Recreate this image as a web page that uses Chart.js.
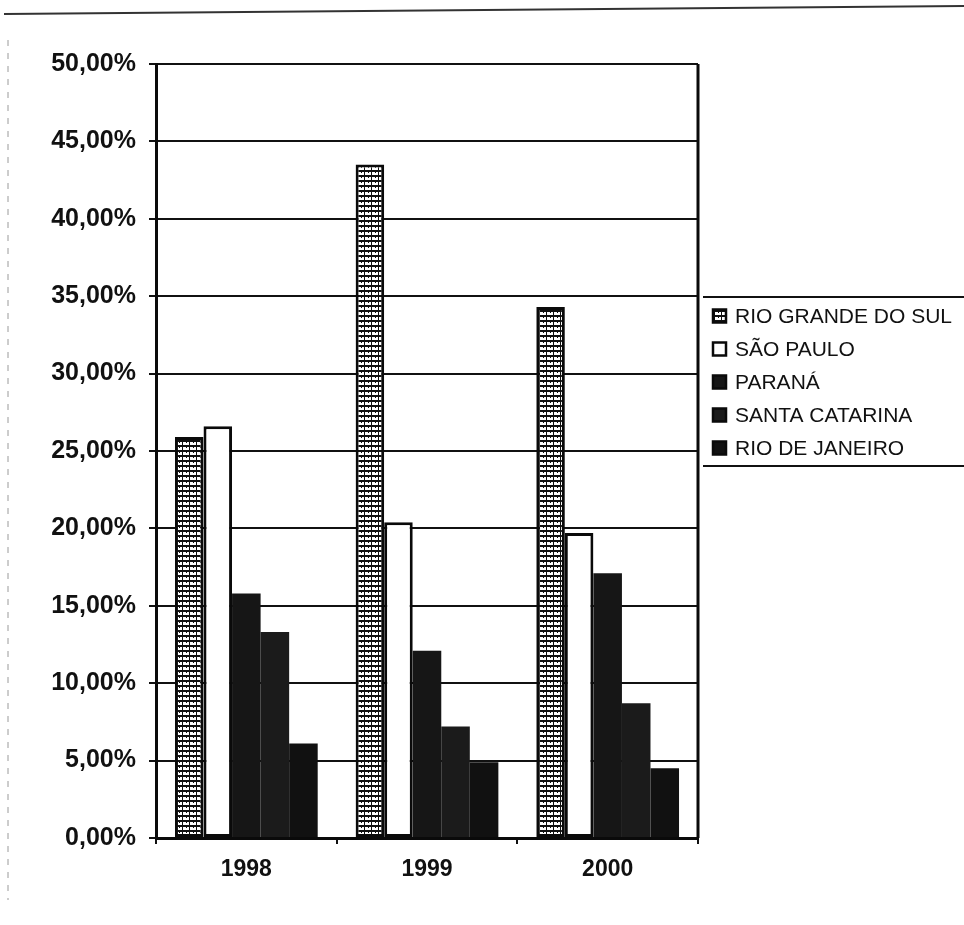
<!DOCTYPE html>
<html>
<head>
<meta charset="utf-8">
<title>Participação por estado</title>
<script src="https://cdn.jsdelivr.net/npm/chart.js@4/dist/chart.umd.min.js"></script>
<style>
  html, body { margin: 0; padding: 0; background: #ffffff; }
  #wrap { position: relative; width: 964px; height: 925px; }
</style>
</head>
<body>
<div id="wrap"><canvas id="chart"></canvas></div>
<script>
// Anos e participação (%) de cada estado
const categories = ['1998', '1999', '2000'];
const seriesNames = ['RIO GRANDE DO SUL', 'SÃO PAULO', 'PARANÁ', 'SANTA CATARINA', 'RIO DE JANEIRO'];
const rioGrandeDoSul = [25.9, 43.5, 34.3];
const saoPaulo = [26.6, 20.4, 19.7];
const parana = [15.8, 12.1, 17.1];
const santaCatarina = [13.3, 7.2, 8.7];
const rioDeJaneiro = [6.1, 4.9, 4.5];
const yTicks = [0, 5, 10, 15, 20, 25, 30, 35, 40, 45, 50];

// Hachura usada nas barras do Rio Grande do Sul
function makeHatch() {
  const c = document.createElement('canvas');
  c.width = 7; c.height = 5;
  const g = c.getContext('2d');
  g.fillStyle = '#ffffff';
  g.fillRect(0, 0, 7, 5);
  g.fillStyle = '#111111';
  g.fillRect(0, 0, 7, 2);
  g.fillRect(0, 0, 1, 5);
  g.fillRect(4, 2, 1, 1);
  return g.createPattern(c, 'repeat');
}
const hatch = makeHatch();

const fills = [hatch, '#ffffff', '#161616', '#1b1b1b', '#111111'];
const edges = ['#0a0a0a', '#0a0a0a', '#161616', '#1b1b1b', '#111111'];
const values = [rioGrandeDoSul, saoPaulo, parana, santaCatarina, rioDeJaneiro];

const datasets = seriesNames.map((name, i) => ({
  label: name,
  data: values[i],
  backgroundColor: fills[i],
  borderColor: edges[i],
  borderWidth: i < 2 ? 3 : 0,
  borderSkipped: false,
  categoryPercentage: 0.79,
  barPercentage: 1.0
}));

// Moldura do gráfico, legenda lateral e linhas da página
const framePlugin = {
  id: 'frame',
  afterDraw(chart) {
    const { ctx, chartArea: a } = chart;
    ctx.save();
    ctx.strokeStyle = '#0a0a0a';
    ctx.lineWidth = 3;
    ctx.beginPath();
    ctx.moveTo(a.right, a.top);
    ctx.lineTo(a.right, a.bottom);
    ctx.stroke();

    // linha superior da página
    ctx.lineWidth = 2;
    ctx.strokeStyle = '#333333';
    ctx.beginPath();
    ctx.moveTo(4, 14);
    ctx.lineTo(964, 6);
    ctx.stroke();

    // borda tracejada à esquerda
    ctx.lineWidth = 1;
    ctx.strokeStyle = '#9a9a9a';
    ctx.setLineDash([6, 7]);
    ctx.beginPath();
    ctx.moveTo(8, 40);
    ctx.lineTo(8, 900);
    ctx.stroke();
    ctx.setLineDash([]);

    // legenda
    const lx = 703, top = 297, bottom = 466, rowH = 33, firstY = 316;
    ctx.strokeStyle = '#111111';
    ctx.lineWidth = 2;
    ctx.beginPath();
    ctx.moveTo(lx, top); ctx.lineTo(964, top);
    ctx.moveTo(lx, bottom); ctx.lineTo(964, bottom);
    ctx.stroke();
    ctx.font = '21px "Liberation Sans", Arial, sans-serif';
    ctx.textBaseline = 'middle';
    ctx.textAlign = 'left';
    chart.data.datasets.forEach((ds, i) => {
      const y = firstY + i * rowH;
      const s = 13;
      ctx.fillStyle = ds.backgroundColor;
      ctx.fillRect(713, y - s / 2, s, s);
      ctx.lineWidth = 2.5;
      ctx.strokeStyle = '#0a0a0a';
      ctx.strokeRect(713, y - s / 2, s, s);
      ctx.fillStyle = '#111111';
      ctx.fillText(ds.label, 735, y + 1);
    });
    ctx.restore();
  }
};

new Chart(document.getElementById('chart'), {
  type: 'bar',
  data: { labels: categories, datasets },
  plugins: [framePlugin],
  options: {
    responsive: true,
    maintainAspectRatio: false,
    animation: false,
    layout: { padding: { top: 64, right: 266, left: 0, bottom: 0 } },
    plugins: { legend: { display: false }, tooltip: { enabled: false } },
    scales: {
      x: {
        afterFit(scale) { scale.height = 87; },
        grid: {
          offset: true,
          drawOnChartArea: false,
          drawTicks: true,
          tickLength: 6,
          color: '#111111',
          lineWidth: 2
        },
        border: { color: '#0a0a0a', width: 3 },
        ticks: {
          color: '#111111',
          padding: 12,
          font: { family: '"Liberation Sans", Arial, sans-serif', size: 23, weight: 'bold' }
        }
      },
      y: {
        min: 0,
        max: 50,
        afterFit(scale) { scale.width = 156; },
        afterBuildTicks(scale) { scale.ticks = yTicks.map(v => ({ value: v })); },
        grid: {
          color: '#111111',
          lineWidth: 2,
          drawTicks: true,
          tickLength: 7
        },
        border: { color: '#0a0a0a', width: 3 },
        ticks: {
          color: '#111111',
          padding: 13,
          font: { family: '"Liberation Sans", Arial, sans-serif', size: 25, weight: 'bold' },
          callback: v => v.toFixed(2).replace('.', ',') + '%'
        }
      }
    }
  }
});
</script>
</body>
</html>
